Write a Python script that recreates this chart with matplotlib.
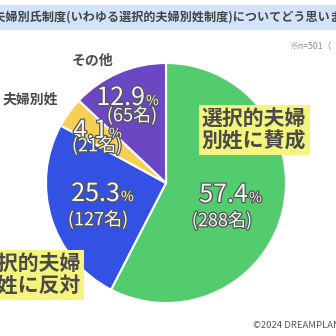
import matplotlib
matplotlib.use("Agg")
import matplotlib.pyplot as plt
import matplotlib.patheffects as pe
from matplotlib.patches import Rectangle

plt.rcParams['font.family'] = ['Noto Sans CJK JP', 'DejaVu Sans']

# data
labels = ['選択的夫婦\n別姓に賛成', '選択的夫婦\n別姓に反対', '夫婦別姓', 'その他']
shares = [57.4, 25.3, 4.1, 12.9]
counts = [288, 127, 21, 65]
colors = ['#52cc6d', '#3351e3', '#f8cf55', '#6b47c3']
title = '選択的夫婦別氏制度(いわゆる選択的夫婦別姓制度)についてどう思いますか？'
note = '※n=501（'
credit = '©2024 DREAMPLANNING'

H = 336

def Y(y):
    # pixel row (top-down) -> axis coordinate
    return H - y

fig = plt.figure(figsize=(3.36, 3.36), dpi=100)
ax = fig.add_axes([0, 0, 1, 1])

ax.pie(shares, colors=colors, startangle=90, counterclock=False,
       center=(166, Y(183)), radius=120,
       wedgeprops=dict(edgecolor='white', linewidth=1.5))

ax.set_xlim(0, 336)
ax.set_ylim(0, 336)
ax.set_aspect('equal')
ax.axis('off')

# title band
ax.add_patch(Rectangle((0, Y(30)), 336, 25, facecolor='#d2e4f9',
                       edgecolor='none', zorder=0))
ax.text(168, Y(17.5), title, ha='center', va='center', fontsize=8.7,
        fontweight='bold', color='#444444')

ax.text(290, Y(47), note, ha='left', va='center', fontsize=6.3, color='#888888')
ax.text(253, Y(325), credit, ha='left', va='center', fontsize=6.8,
        color='#555555')

# value labels
outline = [pe.withStroke(linewidth=1.8, foreground='#555555')]
num_pos = [(248, 202), (120, 201), (108, 138), (145, 105)]
cnt_pos = [(222, 221), (98, 220), (97, 146), (132, 116)]
for i in range(len(shares)):
    x, y = num_pos[i]
    ax.text(x, Y(y), f'{shares[i]:.1f}', ha='right', va='baseline',
            fontsize=18, color='#f6f6f6', path_effects=outline)
    ax.text(x + 1, Y(y), '%', ha='left', va='baseline', fontsize=10,
            color='#f6f6f6', path_effects=outline)
    cx, cy = cnt_pos[i]
    ax.text(cx, Y(cy), f'({counts[i]}名)', ha='center', va='center',
            fontsize=13, color='#f6f6f6', path_effects=outline)

# category labels
box = dict(boxstyle='square,pad=0.15', facecolor='#f5f57d', edgecolor='none')
ax.text(202, Y(130), labels[0], ha='left', va='center', fontsize=15,
        fontweight='bold', color='#4a4a4a', linespacing=1.1, bbox=box)
ax.text(81, Y(275), labels[1], ha='right', va='center', fontsize=15,
        fontweight='bold', color='#4a4a4a', linespacing=1.1, bbox=box)
ax.text(58, Y(100), labels[2], ha='right', va='center', fontsize=10,
        fontweight='bold', color='#4a4a4a')
ax.text(93, Y(61), labels[3], ha='center', va='center', fontsize=10,
        fontweight='bold', color='#4a4a4a')

fig.savefig('out.png', dpi=100)
